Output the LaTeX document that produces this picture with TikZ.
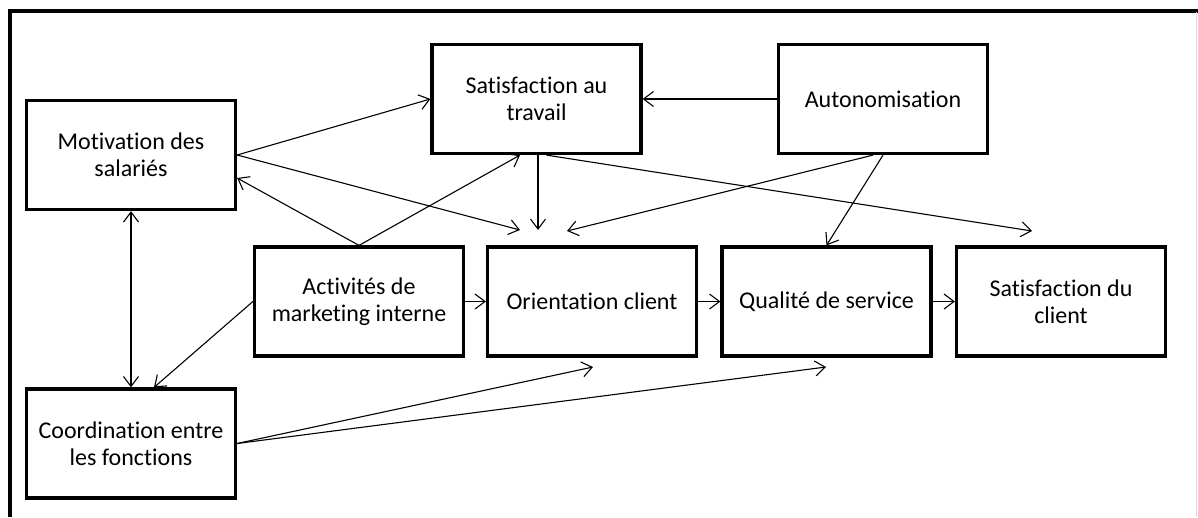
\documentclass[tikz,border=0pt]{standalone}
\usepackage{fontspec}
\setmainfont{Carlito}[Ligatures=NoCommon]
\usetikzlibrary{arrows.meta}

\tikzset{
  box/.style={draw, line width=3.2pt, minimum width=209pt, minimum height=109pt,
    align=center, inner sep=0pt, font=\fontsize{24}{27.5}\selectfont},
  link/.style={line width=1.1pt, -{Straight Barb[length=10pt,width=15pt]}},
  twolink/.style={line width=1.1pt, {Straight Barb[length=10pt,width=15pt]}-{Straight Barb[length=10pt,width=15pt]}},
}

\begin{document}
\begin{tikzpicture}[x=1pt,y=-1pt]
  \useasboundingbox (0,0) rectangle (1198,517);

  % frame
  \draw[line width=3.5pt] (10,517) -- (10,11) -- (1198,11);
  \draw[black!15, line width=1pt] (1196.5,12) -- (1196.5,517);

  % boxes
  \node[box] (motiv)   at (131,155)     {Motivation des\\salariés};
  \node[box] (sattrav) at (536.5,99)    {Satisfaction au\\travail};
  \node[box] (auto)    at (883,99)      {Autonomisation};
  \node[box] (activ)   at (359,301.5)   {Activités de\\marketing interne};
  \node[box] (orient)  at (592,301.5)   {Orientation client};
  \node[box] (qual)    at (826.5,301.5) {Qualité de service};
  \node[box] (satcli)  at (1061,301.5)  {Satisfaction du\\client};
  \node[box] (coord)   at (131,443.5)   {Coordination entre\\les fonctions};

  % free arrow ends
  \coordinate (toOrientA) at (520,230);
  \coordinate (toOrientB) at (538,230);
  \coordinate (toOrientC) at (567,231);
  \coordinate (toSatCli)  at (1032,231);
  \coordinate (underOrient) at (593,367);
  \coordinate (underQual)   at (826,367);

  % upper links
  \draw[link] (motiv.east) -- (sattrav.west);
  \draw[link] (motiv.east) -- (toOrientA);
  \draw[link] (activ.north) -- ([yshift=-23pt]motiv.east);
  \draw[link] (activ.north) -- ([xshift=-16.5pt]sattrav.south);
  \draw[link] ([xshift=1.5pt]sattrav.south) -- (toOrientB);
  \draw[link] ([xshift=10pt]sattrav.south) -- (toSatCli);
  \draw[link] (auto.west) -- (sattrav.east);
  \draw[link] ([xshift=-10pt]auto.south) -- (toOrientC);
  \draw[link] (auto.south) -- (qual.north);

  % left side
  \draw[twolink] (motiv.south) -- (coord.north);
  \draw[link] (activ.west) -- ([xshift=23pt]coord.north);

  % chain
  \foreach \a/\b in {activ/orient, orient/qual, qual/satcli}
    \draw[link] (\a.east) -- (\b.west);

  % lower links
  \draw[link] (coord.east) -- (underOrient);
  \draw[link] (coord.east) -- (underQual);
\end{tikzpicture}
\end{document}
